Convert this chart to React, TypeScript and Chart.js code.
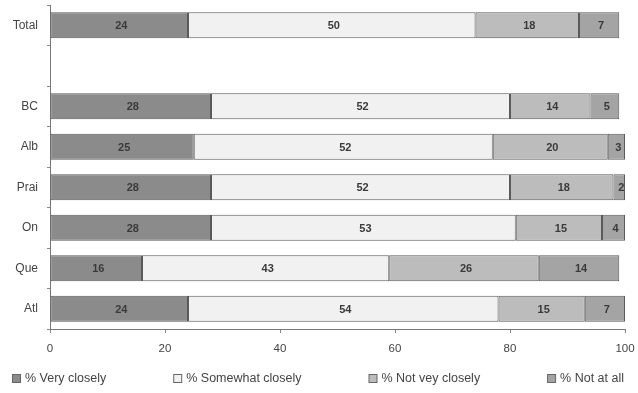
import React, { useEffect, useRef } from "react";
import { Chart, registerables } from "chart.js";

Chart.register(...registerables);

const categories = ["Total", "", "BC", "Alb", "Prai", "On", "Que", "Atl"];
const veryClosely = [24, null, 28, 25, 28, 28, 16, 24];
const somewhatClosely = [50, null, 52, 52, 52, 53, 43, 54];
const notVeryClosely = [18, null, 14, 20, 18, 15, 26, 15];
const notAtAll = [7, null, 5, 3, 2, 4, 14, 7];
const seriesNames = ["% Very closely", "% Somewhat closely", "% Not vey closely", "% Not at all"];
const seriesColors = ["#8b8b8b", "#f1f1f1", "#bcbcbc", "#a4a4a4"];
const xTicks = [0, 20, 40, 60, 80, 100];

const FONT = "'Liberation Sans', Arial, sans-serif";

// Writes each segment's value in the middle of its bar.
const valueLabels = {
  id: "valueLabels",
  afterDatasetsDraw(chart: any) {
    const ctx = chart.ctx;
    ctx.save();
    ctx.font = `bold 11px ${FONT}`;
    ctx.fillStyle = "#3a3a3a";
    ctx.textAlign = "center";
    ctx.textBaseline = "middle";
    chart.data.datasets.forEach((ds: any, di: number) => {
      const meta = chart.getDatasetMeta(di);
      meta.data.forEach((el: any, i: number) => {
        const v = ds.data[i];
        if (v == null) return;
        const p = el.getCenterPoint();
        ctx.fillText(String(v), p.x + 2, p.y + 1);
      });
    });
    ctx.restore();
  },
};

// A single-row legend spread across the width of the canvas.
const spreadLegend = {
  id: "spreadLegend",
  afterDraw(chart: any) {
    const ctx = chart.ctx;
    const left = 12;
    const right = chart.width - 14;
    const y = chart.height - 15;
    const box = 8;
    const gap = 5;
    ctx.save();
    ctx.font = `12.5px ${FONT}`;
    ctx.textBaseline = "middle";
    const widths = chart.data.datasets.map((ds: any) => box + gap + ctx.measureText(ds.label).width);
    const total = widths.reduce((a: number, b: number) => a + b, 0);
    const space = (right - left - total) / (widths.length - 1);
    let x = left;
    chart.data.datasets.forEach((ds: any, i: number) => {
      ctx.fillStyle = ds.backgroundColor;
      ctx.strokeStyle = "#666";
      ctx.lineWidth = 1;
      ctx.fillRect(x + 0.5, y - box / 2 + 0.5, box, box);
      ctx.strokeRect(x + 0.5, y - box / 2 + 0.5, box, box);
      ctx.fillStyle = "#444";
      ctx.fillText(ds.label, x + box + gap, y + 1);
      x += widths[i] + space;
    });
    ctx.restore();
  },
};

export default function App() {
  const ref = useRef<HTMLCanvasElement>(null);
  useEffect(() => {
    if (!ref.current) return;
    const common = {
      borderColor: "#5a5a5a",
      borderWidth: 1,
      borderSkipped: false,
      barPercentage: 0.64,
      categoryPercentage: 1,
      stack: "s",
    };
    const chart = new Chart(ref.current, {
      type: "bar",
      data: {
        labels: categories,
        datasets: seriesNames.map((name, i) => ({
          label: name,
          data: [veryClosely, somewhatClosely, notVeryClosely, notAtAll][i],
          backgroundColor: seriesColors[i],
          ...common,
        })),
      },
      options: {
        indexAxis: "y",
        animation: false,
        responsive: true,
        maintainAspectRatio: false,
        layout: { padding: { top: 5, right: 13, left: 0, bottom: 33 } },
        plugins: {
          tooltip: { enabled: false },
          legend: { display: false },
        },
        scales: {
          x: {
            stacked: true,
            min: 0,
            max: 100,
            afterBuildTicks: (s: any) => {
              s.ticks = xTicks.map((v) => ({ value: v }));
            },
            afterFit: (s: any) => {
              s.height = 31;
              s.paddingLeft = 0;
              s.paddingRight = 0;
            },
            grid: { drawOnChartArea: false, drawTicks: true, tickLength: 4, color: "#888" },
            border: { color: "#777", dash: [1, 1] },
            ticks: { color: "#444", font: { family: FONT, size: 11.5 }, padding: 9 },
          },
          y: {
            stacked: true,
            afterFit: (s: any) => {
              s.width = 50;
              s.paddingTop = 0;
              s.paddingBottom = 0;
            },
            grid: { drawOnChartArea: false, drawTicks: true, tickLength: 3, color: "#888", offset: true },
            border: { color: "#777", dash: [1, 1] },
            ticks: { color: "#444", font: { family: FONT, size: 12 }, padding: 9 },
          },
        },
      },
      plugins: [valueLabels, spreadLegend],
    } as any);
    return () => chart.destroy();
  }, []);
  return (
    <div style={{ position: "fixed", left: 0, top: 0, width: 638, height: 393, background: "#fff" }}>
      <canvas ref={ref} />
    </div>
  );
}
